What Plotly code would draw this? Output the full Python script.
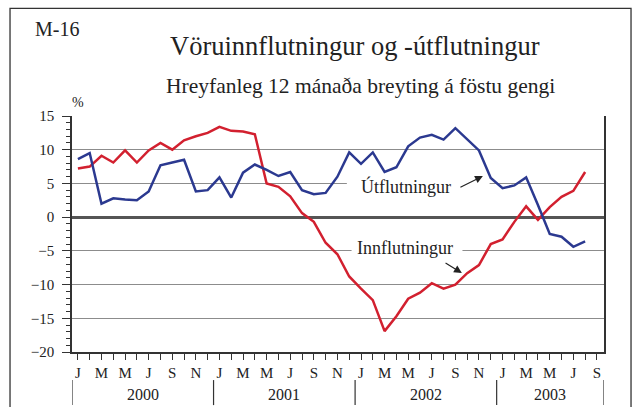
import plotly.graph_objects as go

# ---- data: monthly, Jan 2000 - Aug 2003 ----
years = [2000, 2001, 2002, 2003]
month_letters = ["J", "F", "M", "A", "M", "J", "J", "A", "S", "O", "N", "D"]
months = [f"{y}-{m:02d}" for y in years for m in range(1, 13)][:44]

utflutningur = [8.6, 9.5, 2.0, 2.8, 2.6, 2.5, 3.8, 7.7, 8.1, 8.5, 3.8, 4.0,
                5.9, 2.9, 6.6, 7.8, 7.0, 6.1, 6.7, 4.0, 3.4, 3.6, 6.0, 9.6,
                7.9, 9.6, 6.7, 7.4, 10.5, 11.8, 12.2, 11.5, 13.2, 11.5, 9.9, 5.8,
                4.3, 4.7, 5.9, 1.8, -2.5, -2.9, -4.4, -3.6]

innflutningur = [7.2, 7.5, 9.1, 8.1, 9.9, 8.1, 9.9, 11.0, 10.0, 11.4, 12.0, 12.5,
                 13.4, 12.8, 12.7, 12.3, 5.0, 4.5, 3.1, 0.6, -0.7, -3.8, -5.5, -8.8,
                 -10.6, -12.3, -16.9, -14.7, -12.1, -11.2, -9.8, -10.6, -10.0, -8.3, -7.1, -4.0,
                 -3.3, -0.7, 1.6, -0.4, 1.5, 3.0, 3.9, 6.7]

y_ticks = [-20, -15, -10, -5, 0, 5, 10, 15]

x = list(range(len(months)))
n_ticks = 45  # Jan 2000 .. Sep 2003
tick_vals = list(range(n_ticks))
tick_text = [month_letters[i % 12] if i % 2 == 0 else "" for i in tick_vals]

FONT = "Liberation Serif"
RED = "#d2202f"
BLUE = "#2b3990"

fig = go.Figure()
fig.add_trace(go.Scatter(x=x, y=innflutningur, mode="lines", name="Innflutningur",
                         line=dict(color=RED, width=2.5)))
fig.add_trace(go.Scatter(x=x, y=utflutningur, mode="lines", name="Útflutningur",
                         line=dict(color=BLUE, width=2.5)))

shapes = []
# white gaps in gridlines behind the labels
shapes.append(dict(type="rect", xref="x", yref="y", x0=22.8, x1=34.9, y0=4.7, y1=5.3,
                   fillcolor="white", line=dict(width=0), layer="between"))
shapes.append(dict(type="rect", xref="x", yref="y", x0=23.2, x1=32.6, y0=-5.3, y1=-4.7,
                   fillcolor="white", line=dict(width=0), layer="between"))
# year separators
for xs in [-0.5, 11.5, 23.5, 35.5, 44.6]:
    shapes.append(dict(type="line", xref="x", yref="paper", x0=xs, x1=xs, y0=-0.119, y1=-0.225,
                       line=dict(color="#333", width=1.2)))
# outer frame
shapes.append(dict(type="rect", xref="paper", yref="paper", x0=-0.1165, x1=1.0508,
                   y0=-0.4, y1=1.456, line=dict(color="#333", width=1.3),
                   fillcolor="rgba(0,0,0,0)", layer="above"))

annotations = []
year_x = [5.5, 17.5, 29.5, 40.05]
for yx, yr in zip(year_x, years):
    annotations.append(dict(x=yx, y=-0.182, xref="x", yref="paper", text=str(yr),
                            showarrow=False, font=dict(family=FONT, size=16, color="#222"),
                            xanchor="center", yanchor="middle"))
annotations += [
    dict(x=0.532, y=1.297, xref="paper", yref="paper", text="Vöruinnflutningur og -útflutningur",
         showarrow=False, font=dict(family=FONT, size=26.5, color="#222"), xanchor="center", yanchor="middle"),
    dict(x=0.5432, y=1.127, xref="paper", yref="paper", text="Hreyfanleg 12 mánaða breyting á föstu gengi",
         showarrow=False, font=dict(family=FONT, size=21.5, color="#222"), xanchor="center", yanchor="middle"),
    dict(x=-0.0733, y=1.37, xref="paper", yref="paper", text="M-16",
         showarrow=False, font=dict(family=FONT, size=20, color="#222"), xanchor="left", yanchor="middle"),
    dict(x=0.0113, y=1.059, xref="paper", yref="paper", text="%",
         showarrow=False, font=dict(family=FONT, size=14, color="#222"), xanchor="center", yanchor="middle"),
    dict(x=27.8, y=4.52, xref="x", yref="y", text="Útflutningur", showarrow=False,
         font=dict(family=FONT, size=18, color="#222"), xanchor="center", yanchor="middle"),
    dict(x=27.7, y=-4.53, xref="x", yref="y", text="Innflutningur", showarrow=False,
         font=dict(family=FONT, size=18, color="#222"), xanchor="center", yanchor="middle"),
    dict(x=34.33, y=6.1, ax=32.3, ay=4.32, xref="x", yref="y", axref="x", ayref="y", text="",
         showarrow=True, arrowhead=2, arrowsize=1.3, arrowwidth=1.2, arrowcolor="#222"),
    dict(x=32.55, y=-8.28, ax=31.04, ay=-6.65, xref="x", yref="y", axref="x", ayref="y", text="",
         showarrow=True, arrowhead=2, arrowsize=1.3, arrowwidth=1.2, arrowcolor="#222"),
]

fig.update_layout(
    width=637, height=407,
    margin=dict(l=72, r=33, t=116, b=55),
    paper_bgcolor="white", plot_bgcolor="white",
    showlegend=False,
    font=dict(family=FONT, size=15, color="#222"),
    shapes=shapes, annotations=annotations,
    xaxis=dict(range=[-0.5, 44.6], tickmode="array", tickvals=tick_vals, ticktext=tick_text,
               ticks="outside", ticklen=6, tickwidth=1, tickcolor="#333",
               showline=True, linecolor="#333", linewidth=2, showgrid=False, zeroline=False,
               tickfont=dict(family=FONT, size=15, color="#222"), ticklabelstandoff=0),
    yaxis=dict(range=[-20, 15], tickmode="array", tickvals=y_ticks,
               ticks="outside", ticklen=8, tickwidth=1, tickcolor="#333",
               minor=dict(dtick=1, ticks="outside", ticklen=4, tickcolor="#333", showgrid=False),
               showline=True, linecolor="#333", linewidth=1.5, mirror=True,
               showgrid=True, gridcolor="#8c8c8c", gridwidth=1.2,
               zeroline=True, zerolinecolor="#555", zerolinewidth=2.5,
               tickfont=dict(family=FONT, size=15, color="#222"), ticklabelstandoff=5),
)

fig.write_html("out.html", config={"displayModeBar": False},
               post_script="document.body.style.margin='0';")
